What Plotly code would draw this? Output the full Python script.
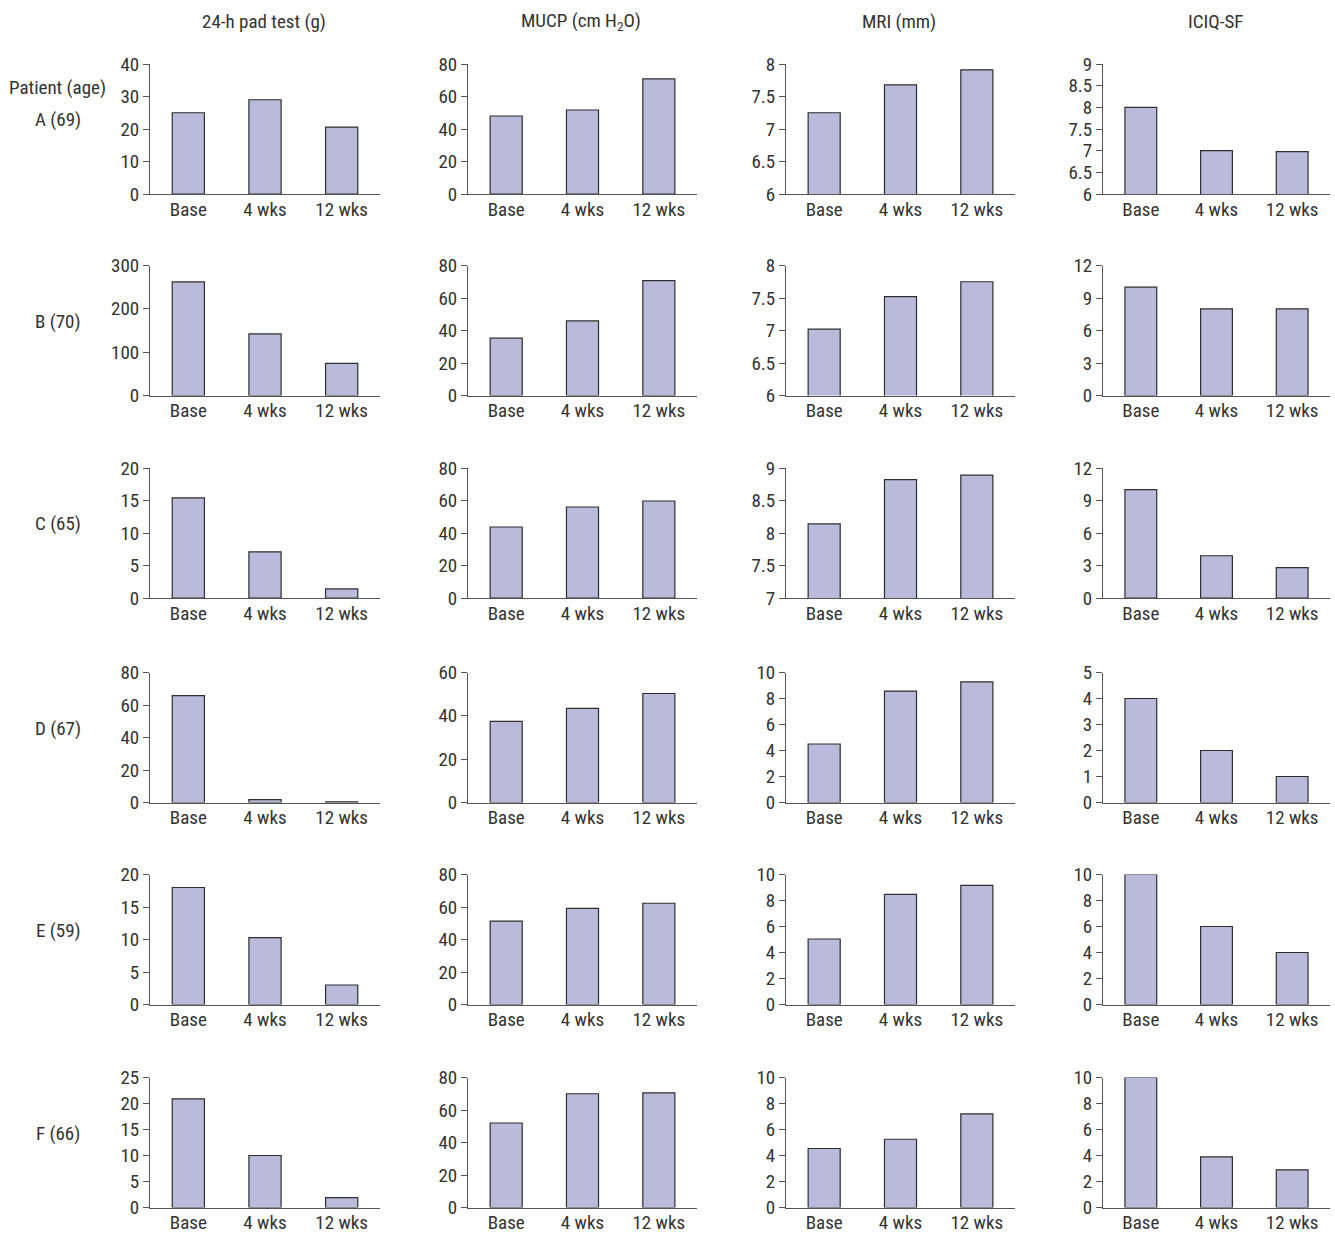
import plotly.graph_objects as go

# Time points on every panel
timepoints = ["Base", "4 wks", "12 wks"]

# Patient labels (rows)
patients = ["A (69)", "B (70)", "C (65)", "D (67)", "E (59)", "F (66)"]

# Outcome measures (columns)
measures = ["24-h pad test (g)", "MUCP (cm H<sub>2</sub>O)", "MRI (mm)", "ICIQ-SF"]

# Values per patient: [Base, 4 wks, 12 wks]
pad_test = [[25, 29, 20.6], [262, 142, 74], [15.4, 7.1, 1.4],
            [65.8, 1.8, 0.4], [18, 10.3, 3.0], [20.9, 10, 1.9]]
mucp = [[48, 51.7, 70.8], [35.3, 45.9, 70.7], [43.7, 56, 59.7],
        [37.4, 43.4, 50.3], [51.3, 59.2, 62.3], [52, 70, 70.6]]
mri = [[7.25, 7.68, 7.91], [7.02, 7.52, 7.75], [8.14, 8.82, 8.89],
       [4.5, 8.57, 9.28], [5.04, 8.47, 9.16], [4.54, 5.25, 7.2]]
iciq = [[8, 7, 6.98], [10, 8, 8], [10, 3.9, 2.8],
        [4, 2, 1], [10, 6, 4], [10, 3.9, 2.9]]

# y-axis scale per panel: (min, max, step)
y_scales = [
    [(0, 40, 10), (0, 80, 20), (6, 8, 0.5), (6, 9, 0.5)],
    [(0, 300, 100), (0, 80, 20), (6, 8, 0.5), (0, 12, 3)],
    [(0, 20, 5), (0, 80, 20), (7, 9, 0.5), (0, 12, 3)],
    [(0, 80, 20), (0, 60, 20), (0, 10, 2), (0, 5, 1)],
    [(0, 20, 5), (0, 80, 20), (0, 10, 2), (0, 10, 2)],
    [(0, 25, 5), (0, 80, 20), (0, 10, 2), (0, 10, 2)],
]

W, H = 1335, 1234
FONT = "Roboto Condensed, Liberation Sans Narrow, Arial Narrow, Roboto, sans-serif"
TEXT = "#333333"
AXIS = "#555555"
BAR = "#babadb"

col_px = [(150, 380), (468, 697), (786, 1015), (1103, 1330)]
row_px = [(64, 194), (265.5, 395.5), (468, 598), (672.5, 802.5), (874.5, 1004.5), (1077.5, 1207.5)]

series = [pad_test, mucp, mri, iciq]

fig = go.Figure()
layout = {}
annotations = []

for r in range(6):
    for c in range(4):
        idx = r * 4 + c + 1
        xa = "x" if idx == 1 else f"x{idx}"
        ya = "y" if idx == 1 else f"y{idx}"
        fig.add_trace(go.Bar(
            x=timepoints, y=series[c][r], xaxis=xa, yaxis=ya,
            width=0.42, marker=dict(color=BAR, line=dict(color="#2e2e2e", width=1.2)),
            showlegend=False, hoverinfo="x+y",
        ))
        x0, x1 = col_px[c]
        y0, y1 = row_px[r]
        lo, hi, step = y_scales[r][c]
        layout["xaxis" if idx == 1 else f"xaxis{idx}"] = dict(
            domain=[x0 / W, x1 / W], anchor=ya, type="category",
            range=[-0.5, 2.5], showline=True, linecolor=AXIS, linewidth=1,
            ticks="", showgrid=False, zeroline=False, automargin=False,
            ticklabelstandoff=-2,
            tickfont=dict(family=FONT, size=19, color=TEXT), fixedrange=True,
        )
        layout["yaxis" if idx == 1 else f"yaxis{idx}"] = dict(
            domain=[1 - y1 / H, 1 - y0 / H], anchor=xa,
            range=[lo, hi], tick0=lo, dtick=step, showline=True,
            linecolor=AXIS, linewidth=1, ticks="outside", ticklen=6,
            tickcolor=AXIS, tickwidth=1, showgrid=False, zeroline=False,
            automargin=False,
            tickfont=dict(family=FONT, size=19, color=TEXT), fixedrange=True,
        )

# Column headings
for c, name in enumerate(measures):
    x0, x1 = col_px[c]
    annotations.append(dict(
        x=(x0 + x1) / 2 / W - 0.001, y=1 - 22 / H, xref="paper", yref="paper",
        text=name, showarrow=False, xanchor="center", yanchor="middle",
        font=dict(family=FONT, size=19, color=TEXT),
    ))

# Row labels
annotations.append(dict(
    x=57 / W, y=1 - 87 / H, xref="paper", yref="paper", text="Patient (age)",
    showarrow=False, xanchor="center", yanchor="middle",
    font=dict(family=FONT, size=19, color=TEXT),
))
for r, p in enumerate(patients):
    y0, y1 = row_px[r]
    annotations.append(dict(
        x=58 / W, y=1 - ((y0 + y1) / 2 - 9) / H, xref="paper", yref="paper",
        text=p, showarrow=False, xanchor="center", yanchor="middle",
        font=dict(family=FONT, size=19, color=TEXT),
    ))

fig.update_layout(
    **layout,
    annotations=annotations,
    width=W, height=H,
    margin=dict(l=0, r=0, t=0, b=0, autoexpand=False),
    paper_bgcolor="white", plot_bgcolor="white",
    bargap=0.58,
)

fig.write_html("out.html")
